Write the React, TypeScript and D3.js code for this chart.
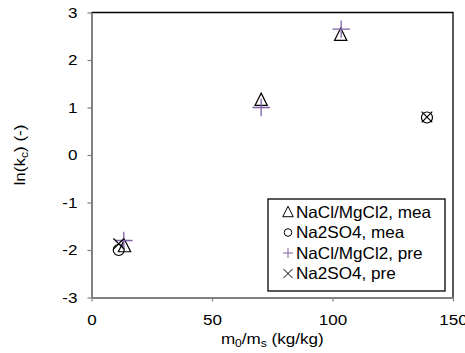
import React, { useEffect, useRef } from "react";
import * as d3 from "d3";

// measured / predicted points, [m0/ms, ln(kc)]
const naclMea: [number, number][] = [[13.7, -1.92], [70.4, 1.16], [103.4, 2.53]];
const na2so4Mea: [number, number][] = [[11.3, -2.0], [139.2, 0.79]];
const naclPre: [number, number][] = [[13.4, -1.8], [70.4, 1.0], [103.6, 2.65]];
const na2so4Pre: [number, number][] = [[11.3, -1.87], [139.2, 0.8]];

const xTicks = [0, 50, 100, 150];
const yTicks = [-3, -2, -1, 0, 1, 2, 3];
const legendLabels = ["NaCl/MgCl2, mea", "Na2SO4, mea", "NaCl/MgCl2, pre", "Na2SO4, pre"];

const W = 465, H = 353;
const margin = { top: 12.5, right: 12, bottom: 55.5, left: 91.5 };
const font = "Liberation Sans, Arial, sans-serif";
const purple = "#7f60a8";
const stretch = "scale(1.1,1)";

export default function App() {
  const ref = useRef<SVGSVGElement>(null);

  useEffect(() => {
    const svg = d3.select(ref.current);
    svg.selectAll("*").remove();

    const x = d3.scaleLinear().domain([0, 150]).range([margin.left, W - margin.right]);
    const y = d3.scaleLinear().domain([-3, 3]).range([H - margin.bottom, margin.top]);
    const [x0, x1] = x.range();
    const [y0, y1] = y.range();

    // frame: top and right black
    svg.append("path")
      .attr("d", `M${x0},${y1}H${x1}V${y0}`)
      .attr("fill", "none").attr("stroke", "#000").attr("stroke-width", 1.3);

    // axes in grey
    const grey = "#808080";
    const fmt = (d: d3.NumberValue) => String(d);
    const xAxis = svg.append("g").attr("transform", `translate(0,${y0})`)
      .call(d3.axisBottom(x).tickValues(xTicks).tickFormat(fmt).tickSize(4).tickSizeOuter(0));
    const yAxis = svg.append("g").attr("transform", `translate(${x0},0)`)
      .call(d3.axisLeft(y).tickValues(yTicks).tickFormat(fmt).tickSize(4).tickSizeOuter(0));
    [xAxis, yAxis].forEach(a => {
      a.select(".domain").attr("stroke", grey).attr("stroke-width", 2);
      a.selectAll(".tick line").attr("stroke", grey).attr("stroke-width", 1.2);
      a.selectAll("text").attr("fill", "#000").attr("transform", stretch)
        .style("font-family", font).style("font-size", "15.5px");
    });
    xAxis.selectAll("text").attr("dy", null).attr("y", 27.5);
    yAxis.selectAll("text").attr("x", -12.8);

    const plot = svg.append("g");

    const tri = (cx: number, cy: number, s: number) =>
      `M${cx},${cy - s * 0.55}L${cx + s * 0.5},${cy + s * 0.45}L${cx - s * 0.5},${cy + s * 0.45}Z`;
    const cross = (cx: number, cy: number, s: number) =>
      `M${cx - s},${cy - s}L${cx + s},${cy + s}M${cx - s},${cy + s}L${cx + s},${cy - s}`;
    const plus = (cx: number, cy: number, s: number) =>
      `M${cx - s},${cy}H${cx + s}M${cx},${cy - s}V${cy + s}`;

    plot.selectAll(".tri").data(naclMea).join("path")
      .attr("d", d => tri(x(d[0]), y(d[1]), 12.3))
      .attr("fill", "none").attr("stroke", "#000").attr("stroke-width", 1.2);
    plot.selectAll(".circ").data(na2so4Mea).join("circle")
      .attr("cx", d => x(d[0])).attr("cy", d => y(d[1])).attr("r", 5.5)
      .attr("fill", "none").attr("stroke", "#000").attr("stroke-width", 1.2);
    plot.selectAll(".plus").data(naclPre).join("path")
      .attr("d", d => plus(x(d[0]), y(d[1]), 8.7))
      .attr("fill", "none").attr("stroke", purple).attr("stroke-width", 1.3);
    plot.selectAll(".cross").data(na2so4Pre).join("path")
      .attr("d", d => cross(x(d[0]), y(d[1]), 5.3))
      .attr("fill", "none").attr("stroke", "#000").attr("stroke-width", 1.2);

    // legend
    const lg = svg.append("g").attr("transform", "translate(268,199)");
    lg.append("rect").attr("width", 177).attr("height", 92)
      .attr("fill", "#fff").attr("stroke", "#000").attr("stroke-width", 1.3);
    legendLabels.forEach((label, i) => {
      const base = 19 + i * 20.5;
      const cy = base - 6;
      const sx = 20;
      if (i === 0) lg.append("path").attr("d", tri(sx, cy, 10.5)).attr("fill", "none").attr("stroke", "#000");
      if (i === 1) lg.append("circle").attr("cx", sx).attr("cy", cy).attr("r", 3.8).attr("fill", "none").attr("stroke", "#000");
      if (i === 2) lg.append("path").attr("d", plus(sx, cy, 5)).attr("fill", "none").attr("stroke", purple);
      if (i === 3) lg.append("path").attr("d", cross(sx, cy, 4.5)).attr("fill", "none").attr("stroke", "#000");
      lg.append("text").attr("x", 28).attr("y", base)
        .attr("transform", `translate(28,0) scale(1.05,1) translate(-28,0)`)
        .style("font-family", font).style("font-size", "16.3px").text(label);
    });

    // axis titles
    const xt = svg.append("text").attr("x", 0).attr("y", 0)
      .attr("transform", `translate(${(x0 + x1) / 2},344) ${stretch}`)
      .attr("text-anchor", "middle").style("font-family", font).style("font-size", "15.5px");
    xt.append("tspan").text("m");
    xt.append("tspan").attr("dy", 3).style("font-size", "11px").text("0");
    xt.append("tspan").attr("dy", -3).text("/m");
    xt.append("tspan").attr("dy", 3).style("font-size", "11px").text("s");
    xt.append("tspan").attr("dy", -3).text(" (kg/kg)");

    const yt = svg.append("text").attr("transform", `translate(25,${(y0 + y1) / 2}) rotate(-90) ${stretch}`)
      .attr("text-anchor", "middle").style("font-family", font).style("font-size", "15.5px");
    yt.append("tspan").text("ln(k");
    yt.append("tspan").attr("dy", 3).style("font-size", "11px").text("c");
    yt.append("tspan").attr("dy", -3).text(") (-)");
  }, []);

  return (
    <svg ref={ref} width={W} height={H}
      style={{ position: "absolute", left: 0, top: 0, display: "block", background: "#fff" }} />
  );
}
